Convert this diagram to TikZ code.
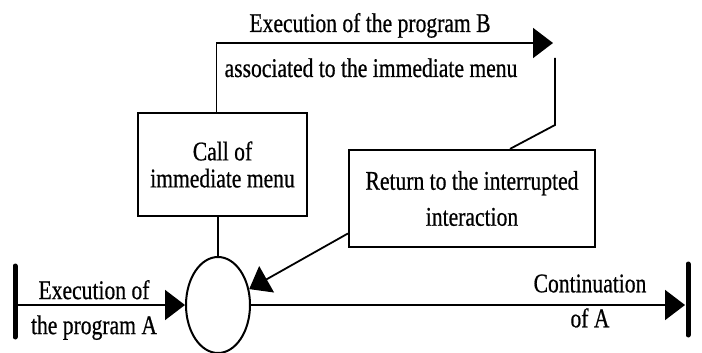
\documentclass[tikz,border=0pt]{standalone}
\usepackage{fontspec}
\setmainfont{Liberation Serif}[FakeStretch=0.8,FakeBold=0.6]
\usetikzlibrary{arrows.meta,shapes.geometric}
\begin{document}
\begin{tikzpicture}[x=1pt,y=-1pt,line width=1.8pt,
  lbl/.style={font=\fontsize{27}{35}\selectfont,align=center,inner sep=0pt},
  box/.style={draw,line width=2.2pt,align=center,inner sep=0pt},
  arr/.style={-{Triangle[length=20pt,width=30pt]}},
  bar/.style={line width=5pt,line cap=round}]
\useasboundingbox (0,0) rectangle (702,353);
% boxes
\node[box,font=\fontsize{27}{27}\selectfont,minimum width=169pt,minimum height=103pt] (call) at (222.5,164.5) {Call of\\immediate menu};
\node[box,font=\fontsize{27}{36}\selectfont,minimum width=246pt,minimum height=97pt] (ret) at (472,198.5) {Return to the interrupted\\interaction};
\node[draw,ellipse,line width=2pt,minimum width=64pt,minimum height=96pt,inner sep=0pt] (c) at (218,305) {};
% bars
\coordinate (lbt) at (15,266); \coordinate (lbb) at (15,337);
\coordinate (rbt) at (688,264); \coordinate (rbb) at (688,335);
\coordinate (lb) at (15,305); \coordinate (rb) at (685,305);
\draw[bar] (lbt) -- (lbb);
\draw[bar] (rbt) -- (rbb);
% main line
\draw[arr] (lb) -- (c.west);
\draw[arr] (c.east) -- (rb);
% call connections
\draw (c.north) -- (c.north |- call.south);
\coordinate (tipB) at (553,43);
\draw[arr] ([xshift=-6pt]call.north) |- (tipB);
\coordinate (rv1) at (555,58); \coordinate (rv2) at (555,125);
\draw (rv1) -- (rv2) -- ([xshift=38pt]ret.north);
% return arrow
\draw[arr] ([yshift=-35pt]ret.west) -- (c.27);
% labels
\node[lbl,anchor=base] (eb1) at (370,32) {Execution of the program B};
\node[lbl,anchor=base] (eb2) at (371,77) {associated to the immediate menu};
\node[lbl] (ea) at (94,310) {Execution of\\the program A};
\node[lbl] (ca) at (590,301) {Continuation\\of A};
\end{tikzpicture}
\end{document}
